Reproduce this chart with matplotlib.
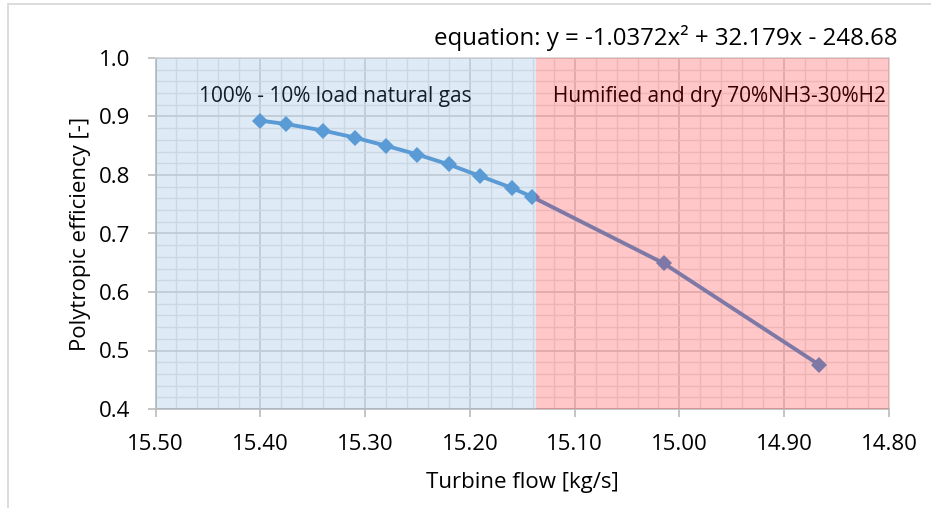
import matplotlib.pyplot as plt
from matplotlib.patches import Rectangle
from matplotlib.ticker import MultipleLocator

# turbine flow [kg/s] and polytropic efficiency [-]
flow = [15.400, 15.375, 15.340, 15.310, 15.280, 15.250, 15.220, 15.190, 15.160, 15.141, 15.015, 14.867]
eff = [0.893, 0.887, 0.876, 0.864, 0.850, 0.835, 0.818, 0.798, 0.778, 0.763, 0.649, 0.476]

# where natural gas operation ends and the NH3/H2 blend starts
fuel_switch = 15.137
x_limits = (15.50, 14.80)
y_limits = (0.4, 1.0)

equation = "equation: y = -1.0372x² + 32.179x - 248.68"
label_gas = "100% - 10% load natural gas"
label_nh3 = "Humified and dry 70%NH3-30%H2"


def main():
    plt.rcParams["font.family"] = ["Open Sans", "DejaVu Sans"]

    W, H = 931, 508
    fig = plt.figure(figsize=(W / 100, H / 100), dpi=100)
    ax = fig.add_axes([155.5 / W, 1 - 409 / H, (889 - 155.5) / W, (409 - 58) / H])

    # chart area border
    fig.patches.append(Rectangle((8 / W, -0.1), 1.0, 1.1 - 4 / H, transform=fig.transFigure,
                                 fill=False, edgecolor="#d9d9d9", linewidth=1.3))

    ax.plot(flow, eff, color="#5b9bd5", linewidth=2.8, marker="D", markersize=8.5,
            markeredgewidth=0, zorder=3)

    ax.text(15.4585, 0.925, label_gas, fontsize=15, color="black", va="baseline", zorder=2)
    ax.text(15.121, 0.925, label_nh3, fontsize=15, color="black", va="baseline", zorder=2)

    # translucent fuel regions sit on top of everything in the plot area
    ax.axvspan(x_limits[0], fuel_switch, color="#5b9bd5", alpha=0.2, linewidth=0, zorder=5)
    ax.axvspan(fuel_switch, x_limits[1], color="#ff0000", alpha=0.22, linewidth=0, zorder=5)

    ax.set_xlim(*x_limits)
    ax.set_ylim(*y_limits)
    ax.xaxis.set_major_locator(MultipleLocator(0.1))
    ax.xaxis.set_minor_locator(MultipleLocator(0.02))
    ax.yaxis.set_major_locator(MultipleLocator(0.1))
    ax.yaxis.set_minor_locator(MultipleLocator(0.02))
    ax.xaxis.set_major_formatter(lambda v, p: f"{v:.2f}")
    ax.yaxis.set_major_formatter(lambda v, p: f"{v:.1f}")

    ax.grid(which="major", color="#d9d9d9", linewidth=1.3, zorder=1)
    ax.grid(which="minor", color="#e8e8e8", linewidth=1.0, zorder=1)
    ax.set_axisbelow(True)

    for side in ("top", "right"):
        ax.spines[side].set_color("#d9d9d9")
        ax.spines[side].set_linewidth(1.3)
    for side in ("left", "bottom"):
        ax.spines[side].set_color("#bfbfbf")
        ax.spines[side].set_linewidth(1.3)

    ax.tick_params(which="major", length=6, width=1.3, color="#bfbfbf",
                   labelsize=16, labelcolor="black")
    ax.tick_params(axis="y", pad=12)
    ax.tick_params(axis="x", pad=12)
    ax.tick_params(which="minor", length=0)

    ax.set_xlabel("Turbine flow [kg/s]", fontsize=16, labelpad=12)
    ax.set_ylabel("Polytropic efficiency [-]", fontsize=16, labelpad=6)

    fig.text(898 / W, 1 - 45 / H, equation, fontsize=17.3, ha="right", va="baseline")

    fig.savefig("out.png", dpi=100, facecolor="white")


if __name__ == "__main__":
    main()
